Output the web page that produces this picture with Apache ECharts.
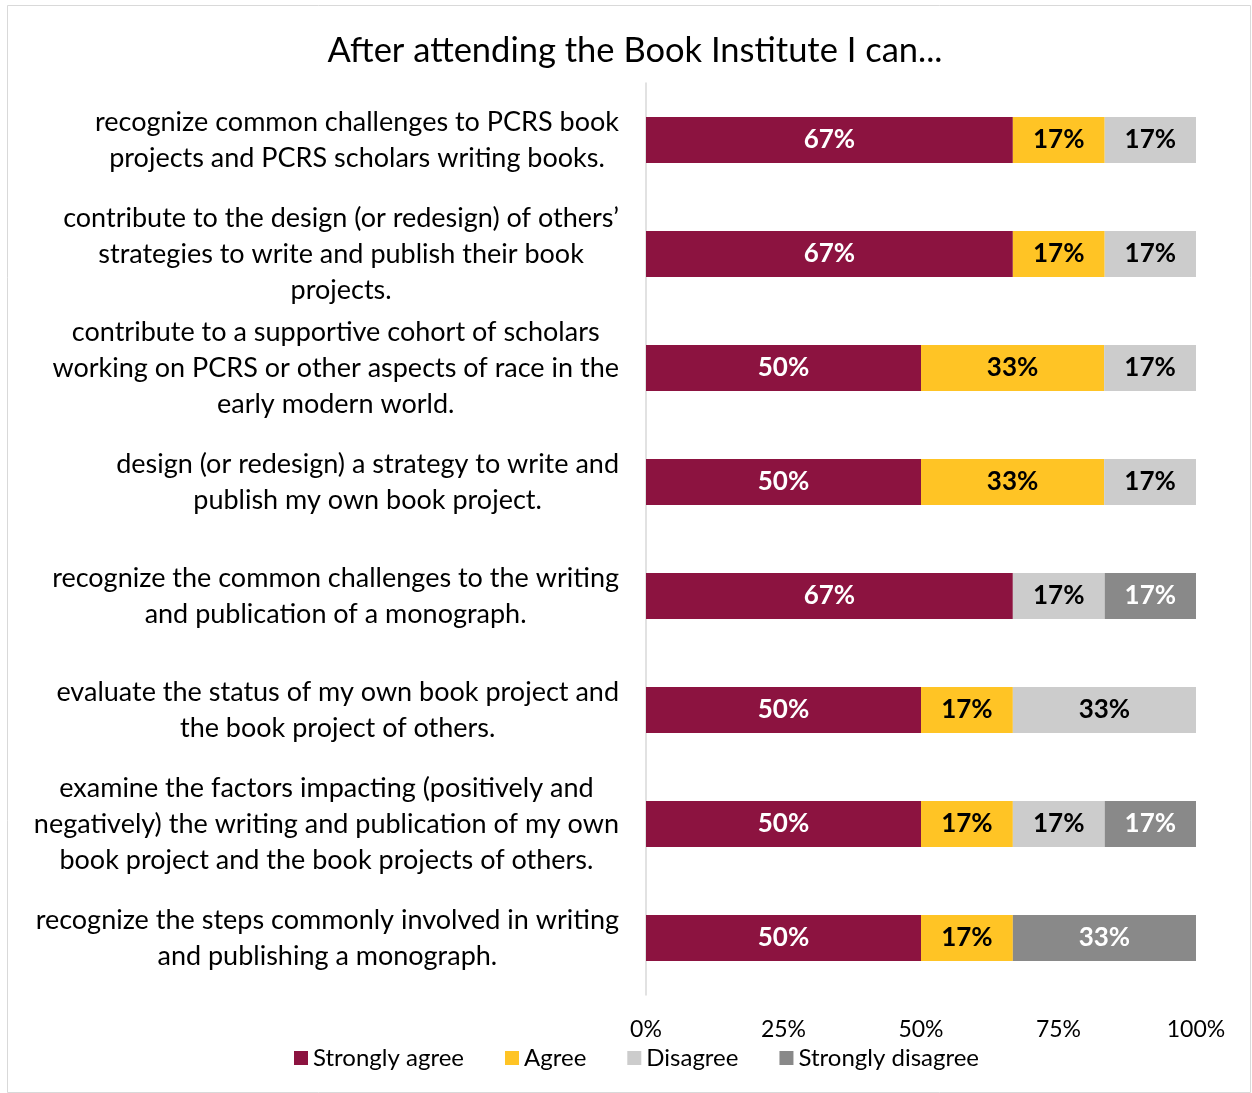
<!DOCTYPE html>
<html><head><meta charset="utf-8">
<script src="https://cdn.jsdelivr.net/npm/echarts@6/dist/echarts.min.js"></script>
<style>html,body{margin:0;padding:0;background:#fff}#c{width:1252px;height:1093px}</style>
</head><body><div id="c"></div>
<script>
const title = 'After attending the Book Institute I can...';
const categories = [
  'recognize common challenges to PCRS book\nprojects and PCRS scholars writing books.',
  'contribute to the design (or redesign) of others\u2019\nstrategies to write and publish their book\nprojects.',
  'contribute to a supportive cohort of scholars\nworking on PCRS or other aspects of race in the\nearly modern world.',
  'design (or redesign) a strategy to write and\npublish my own book project.',
  'recognize the common challenges to the writing\nand publication of a monograph.',
  'evaluate the status of my own book project and\nthe book project of others.',
  'examine the factors impacting (positively and\nnegatively) the writing and publication of my own\nbook project and the book projects of others.',
  'recognize the steps commonly involved in writing\nand publishing a monograph.'
];
const seriesNames = ['Strongly agree', 'Agree', 'Disagree', 'Strongly disagree'];
const stronglyAgree    = [66.7, 66.7, 50, 50, 66.7, 50, 50, 50];
const agree            = [16.7, 16.7, 33.3, 33.3, 0, 16.7, 16.7, 16.7];
const disagree         = [16.7, 16.7, 16.7, 16.7, 16.7, 33.3, 16.7, 0];
const stronglyDisagree = [0, 0, 0, 0, 16.7, 0, 16.7, 33.3];
const xTicks = [0, 25, 50, 75, 100];

const FONT = 'Lato';
const colors = ['#8C1340', '#FFC425', '#CCCCCC', '#898989'];
const labelColors = ['#ffffff', '#000000', '#000000', '#ffffff'];
const values = [stronglyAgree, agree, disagree, stronglyDisagree];

const chart = echarts.init(document.getElementById('c'));
chart.setOption({
  animation: false,
  backgroundColor: '#fff',
  graphic: [{
    type: 'rect', shape: {x: 7.5, y: 5.5, width: 1243, height: 1087},
    style: {fill: 'none', stroke: '#d9d9d9', lineWidth: 1}, silent: true, z: -1
  }],
  title: {
    text: title, left: 630, top: 28, textAlign: 'center',
    textStyle: {fontFamily: FONT, fontSize: 34.5, fontWeight: 'normal', color: '#000'}
  },
  legend: {
    data: seriesNames, bottom: 18, left: 289, itemWidth: 14, itemHeight: 14, itemGap: 41,
    icon: 'rect',
    textStyle: {fontFamily: FONT, fontSize: 24, color: '#000'}
  },
  grid: {left: 646, right: 56, top: 83, bottom: 98, containLabel: false},
  xAxis: {
    type: 'value', min: xTicks[0], max: xTicks[xTicks.length - 1], interval: 25,
    axisLine: {show: false}, axisTick: {show: false}, splitLine: {show: false},
    axisLabel: {formatter: '{value}%', fontFamily: FONT, fontSize: 23, color: '#000', margin: 23}
  },
  yAxis: {
    type: 'category', data: categories, inverse: true,
    axisLine: {show: true, lineStyle: {color: '#d9d9d9', width: 1.5}},
    axisTick: {show: false},
    axisLabel: {
      margin: 27, fontFamily: FONT, fontSize: 27, color: '#000', lineHeight: 36,
      formatter: v => v.split('\n').map(l => '{c|' + l + '}').join('\n'),
      rich: {c: {align: 'center', fontFamily: FONT, fontSize: 27, lineHeight: 36, color: '#000'}}
    }
  },
  series: seriesNames.map((name, i) => ({
    name, type: 'bar', stack: 'total', barWidth: 46,
    data: values[i],
    itemStyle: {color: colors[i]},
    label: {
      show: true, position: 'inside', fontFamily: FONT, fontSize: 26, fontWeight: 'bold',
      color: labelColors[i],
      formatter: p => p.value > 0 ? Math.round(p.value) + '%' : ''
    }
  }))
});
</script></body></html>
